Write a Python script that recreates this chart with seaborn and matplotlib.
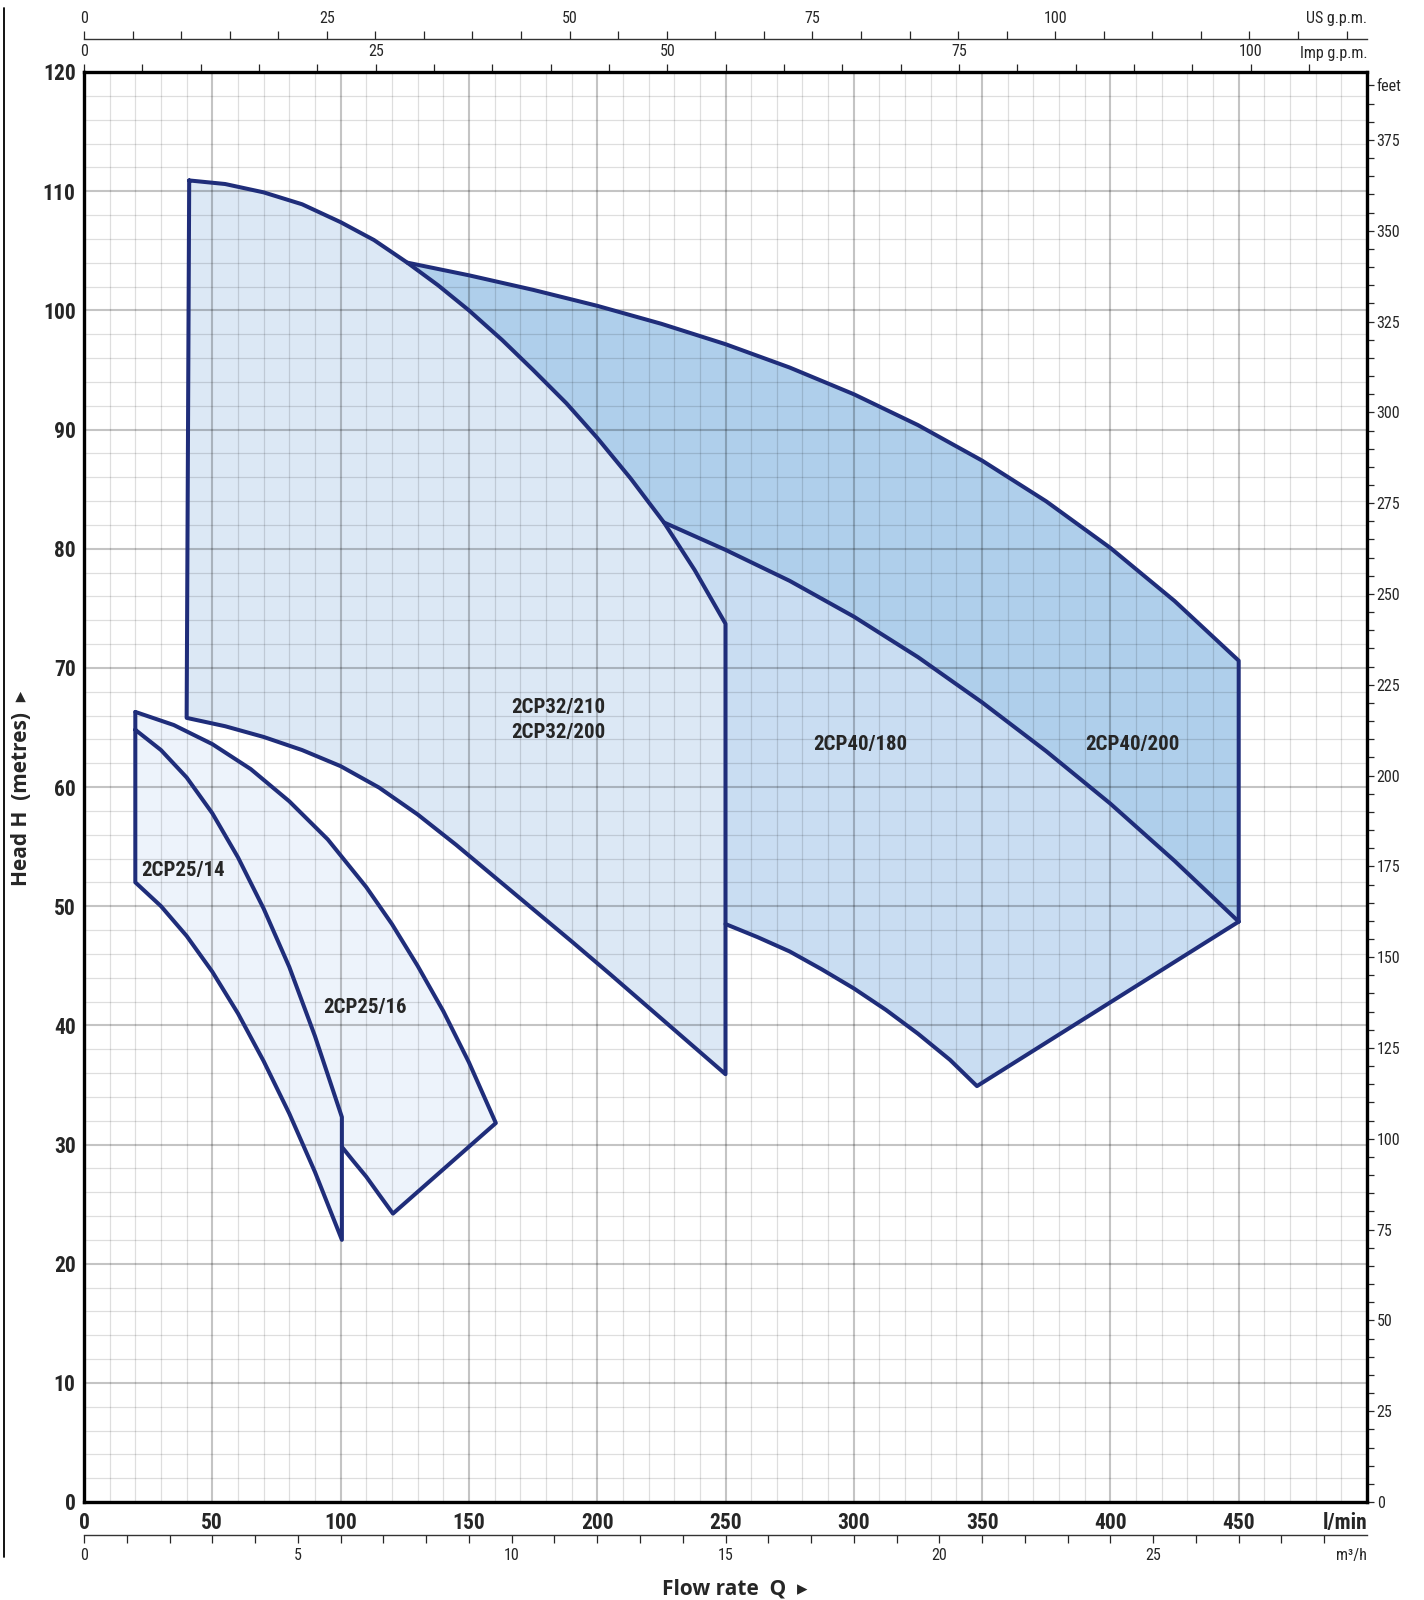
"""
Pump performance ranges (2CP series) – head vs flow rate with unit scales.
"""
import numpy as np
import matplotlib
matplotlib.use("Agg")
import matplotlib.pyplot as plt
import seaborn as sns
from matplotlib import font_manager as fm
from matplotlib.lines import Line2D
from matplotlib.ticker import FixedLocator

# ── 1. Data (flow in l/min, head in metres) ─────────────
q_25_16_top = [20, 35, 50, 65, 80, 95, 110, 120, 130, 140, 150, 160.5]
h_25_16_top = [66.3, 65.2, 63.6, 61.5, 58.8, 55.6, 51.6, 48.5, 45.0, 41.2, 36.9, 31.8]
q_25_16_bot = [100.5, 105, 110, 115, 120.4]
h_25_16_bot = [29.8, 28.6, 27.3, 25.8, 24.2]

q_25_14_top = [20, 30, 40, 50, 60, 70, 80, 90, 100.5]
h_25_14_top = [64.8, 63.1, 60.8, 57.8, 54.1, 49.8, 44.9, 39.1, 32.3]
q_25_14_bot = [20, 30, 40, 50, 60, 70, 80, 90, 100.5]
h_25_14_bot = [52.0, 50.0, 47.5, 44.5, 41.0, 37.0, 32.6, 27.7, 22.0]

q_32_top = [41, 55, 70, 85, 100, 113, 126, 138, 150, 163, 175, 188, 200, 213, 226, 238, 250]
h_32_top = [110.9, 110.6, 109.9, 108.9, 107.4, 105.9, 104.0, 102.1, 100.0, 97.5, 95.0,
            92.2, 89.3, 85.9, 82.2, 78.2, 73.7]
q_32_bot = [40, 55, 70, 85, 100, 115, 130, 145, 160, 175, 190, 205, 220, 235, 250]
h_32_bot = [65.8, 65.1, 64.2, 63.1, 61.75, 59.95, 57.7, 55.15, 52.45, 49.75, 47.05, 44.3,
            41.5, 38.7, 35.9]

q_40_200_top = [126, 150, 175, 200, 225, 250, 275, 300, 325, 350, 375, 400, 425, 450]
h_40_200_top = [104.0, 102.94, 101.72, 100.38, 98.87, 97.16, 95.2, 92.96, 90.37, 87.39,
                83.97, 80.06, 75.61, 70.6]
q_40_200_end = [450, 450]
h_40_200_end = [70.6, 48.7]

q_40_180_top = [226, 250, 275, 300, 325, 350, 375, 400, 425, 450]
h_40_180_top = [82.2, 79.9, 77.3, 74.3, 70.9, 67.1, 63.0, 58.6, 53.8, 48.7]
q_40_180_bot = [250, 262.5, 275, 287.5, 300, 312.5, 325, 337.5, 348, 450]
h_40_180_bot = [48.5, 47.4, 46.2, 44.7, 43.1, 41.3, 39.3, 37.1, 34.9, 48.7]

labels = ["2CP25/14", "2CP25/16", "2CP32/210", "2CP32/200", "2CP40/180", "2CP40/200"]
label_q = [38.5, 109.6, 184.7, 184.7, 302.4, 408.5]
label_h = [53.0, 41.5, 66.7, 64.6, 63.6, 63.6]

x_major = [0, 50, 100, 150, 200, 250, 300, 350, 400, 450, 500]
x_labels = ["0", "50", "100", "150", "200", "250", "300", "350", "400", "450", "l/min"]
y_major = [0, 10, 20, 30, 40, 50, 60, 70, 80, 90, 100, 110, 120]
feet_ticks = [0, 25, 50, 75, 100, 125, 150, 175, 200, 225, 250, 275, 300, 325, 350, 375, 390]
feet_labels = [str(v) for v in feet_ticks[:-1]] + ["feet"]
gpm_ticks = [0, 25, 50, 75, 100]
m3h_ticks = [0, 5, 10, 15, 20, 25]

# ── 2. Style ─────────────────────────────────────────────
sns.set_style("white")
avail = {f.name for f in fm.fontManager.ttflist}
NARROW = next((f for f in ["Liberation Sans Narrow", "Roboto Condensed",
                           "DejaVu Sans Condensed", "Liberation Sans"] if f in avail),
              "DejaVu Sans")
plt.rcParams["font.family"] = [NARROW, "DejaVu Sans"]

NAVY = "#1f2d7a"
LW = 2.9
C_25 = "#edf3fb"
C_32 = "#dce8f5"
C_180 = "#c9ddf2"
C_200 = "#afcfeb"

fig = plt.figure(figsize=(14.24, 16), dpi=100)
ax = fig.add_axes([84 / 1424, 98 / 1600, 1283 / 1424, 1430 / 1600])

# ── 3. Filled ranges ─────────────────────────────────────
i126, i226 = q_32_top.index(126), q_32_top.index(226)
ax.fill(np.r_[q_40_200_top, q_40_180_top[::-1], q_32_top[i126:i226 + 1][::-1]],
        np.r_[h_40_200_top, h_40_180_top[::-1], h_32_top[i126:i226 + 1][::-1]],
        color=C_200, lw=0, zorder=1)
ax.fill(np.r_[q_40_180_top, q_40_180_bot[::-1], q_32_top[i226 + 1:][::-1]],
        np.r_[h_40_180_top, h_40_180_bot[::-1], h_32_top[i226 + 1:][::-1]],
        color=C_180, lw=0, zorder=1)
ax.fill(np.r_[q_32_top, q_32_bot[::-1]], np.r_[h_32_top, h_32_bot[::-1]],
        color=C_32, lw=0, zorder=1)
ax.fill(np.r_[q_25_16_top, q_25_16_bot[::-1], q_25_14_top[::-1]],
        np.r_[h_25_16_top, h_25_16_bot[::-1], h_25_14_top[::-1]],
        color=C_25, lw=0, zorder=1)
ax.fill(np.r_[q_25_14_top, q_25_14_bot[::-1]], np.r_[h_25_14_top, h_25_14_bot[::-1]],
        color=C_25, lw=0, zorder=1)

# ── 4. Outlines ──────────────────────────────────────────
def outline(q, h):
    sns.lineplot(x=np.asarray(q, float), y=np.asarray(h, float), sort=False,
                 estimator=None, color=NAVY, linewidth=LW, ax=ax, zorder=4,
                 solid_joinstyle="round", solid_capstyle="round")

outline(np.r_[q_32_top, q_32_bot[::-1], q_32_top[0]], np.r_[h_32_top, h_32_bot[::-1], h_32_top[0]])
outline(np.r_[q_40_200_top, q_40_200_end], np.r_[h_40_200_top, h_40_200_end])
outline(q_40_180_top, h_40_180_top)
outline(q_40_180_bot, h_40_180_bot)
outline(np.r_[q_25_14_top, q_25_14_bot[::-1], q_25_16_top[0]],
        np.r_[h_25_14_top, h_25_14_bot[::-1], h_25_16_top[0]])
outline(np.r_[q_25_16_top, q_25_16_bot[::-1]], np.r_[h_25_16_top, h_25_16_bot[::-1]])

for txt, q, h in zip(labels, label_q, label_h):
    ax.text(q, h, txt, ha="center", va="center", fontsize=15, fontweight="bold", zorder=5)

# ── 5. Main axes ─────────────────────────────────────────
ax.set_xlim(0, 500)
ax.set_ylim(0, 120)
ax.set_xlabel("")
ax.set_ylabel("")
ax.set_xticks(x_major, labels=x_labels, fontsize=15.5, fontweight="bold")
ax.set_yticks(y_major, labels=[str(v) for v in y_major], fontsize=15.5, fontweight="bold")
ax.get_xticklabels()[-1].set_horizontalalignment("right")
ax.xaxis.set_minor_locator(FixedLocator(list(range(0, 501, 10))))
ax.yaxis.set_minor_locator(FixedLocator(list(range(0, 121, 2))))
ax.tick_params(which="both", length=0)
ax.tick_params(axis="x", pad=7)
ax.tick_params(axis="y", pad=6)
ax.set_axisbelow(False)
ax.grid(which="minor", color="black", alpha=0.13, lw=0.9)
ax.grid(which="major", color="black", alpha=0.23, lw=1.5)
for s in ax.spines.values():
    s.set_linewidth(2.4)
    s.set_color("black")
    s.set_zorder(6)

# ── 6. Secondary unit scales ─────────────────────────────
SMALL = 11.5

imp = ax.secondary_xaxis("top", functions=(lambda q: np.asarray(q) / 4.546,
                                           lambda g: np.asarray(g) * 4.546))
imp.set_xticks(gpm_ticks)
imp.xaxis.set_minor_locator(FixedLocator(list(range(0, 111, 5))))
imp.tick_params(which="both", direction="out", length=6, width=0.9, pad=3, labelsize=SMALL)
imp.spines["top"].set_visible(False)

us = ax.secondary_xaxis(1.0234, functions=(lambda q: np.asarray(q) / 3.785,
                                           lambda g: np.asarray(g) * 3.785))
us.set_xticks(gpm_ticks)
us.xaxis.set_minor_locator(FixedLocator(list(range(0, 131, 5))))
us.tick_params(which="both", direction="out", length=6, width=0.9, pad=3, labelsize=SMALL)
us.spines["top"].set_linewidth(1.0)
us.spines["top"].set_color("#333333")

m3 = ax.secondary_xaxis(-0.0231, functions=(lambda q: np.asarray(q) / 16.6667,
                                            lambda m: np.asarray(m) * 16.6667))
m3.set_xticks(m3h_ticks)
m3.xaxis.set_minor_locator(FixedLocator(list(range(0, 31))))
m3.tick_params(which="both", direction="out", length=6, width=0.9, pad=3, labelsize=SMALL)
m3.spines["bottom"].set_linewidth(1.0)
m3.spines["bottom"].set_color("#333333")

ft = ax.secondary_yaxis("right", functions=(lambda m: np.asarray(m) * 3.28084,
                                            lambda f: np.asarray(f) / 3.28084))
ft.set_yticks(feet_ticks, labels=feet_labels)
ft.yaxis.set_minor_locator(FixedLocator(list(range(0, 391, 5))))
ft.tick_params(which="both", direction="out", length=5, width=0.9, pad=2, labelsize=SMALL)
ft.spines["right"].set_visible(False)

ax.text(1.0, 1.0374, "US g.p.m.", transform=ax.transAxes, ha="right", va="center", fontsize=SMALL)
ax.text(1.0, 1.0126, "Imp g.p.m.", transform=ax.transAxes, ha="right", va="center", fontsize=SMALL)
ax.text(1.0, -0.0371, "m³/h", transform=ax.transAxes, ha="right", va="center", fontsize=SMALL)

# ── 7. Axis titles and frame line ────────────────────────
fig.text(0.516, 0.0069, "Flow rate  Q  \u25b8", ha="center", va="center", fontsize=15,
         fontweight="bold", family=["Open Sans", "DejaVu Sans"])
fig.text(0.0154, 0.5075, "Head H  (metres)  \u25b8", ha="center", va="center", rotation=90,
         fontsize=15, fontweight="bold", family=["Open Sans", "DejaVu Sans"])
fig.add_artist(Line2D([4 / 1424, 4 / 1424], [1 - 8 / 1600, 1 - 1557 / 1600],
                      lw=1.3, color="black"))

fig.savefig("out.png", dpi=100)
